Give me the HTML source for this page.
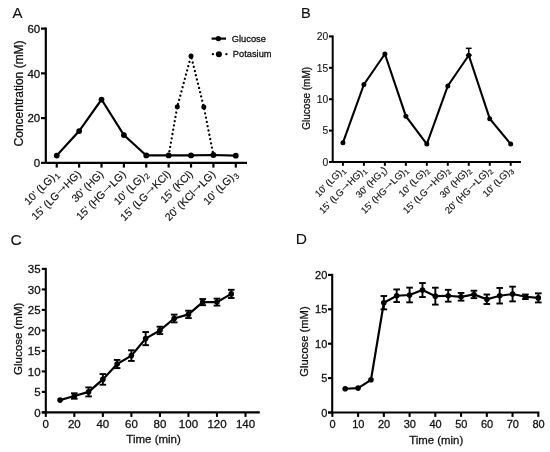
<!DOCTYPE html>
<html><head><meta charset="utf-8"><style>
html,body{margin:0;padding:0;background:#fff;}
body{width:550px;height:452px;overflow:hidden;}
svg{display:block;font-family:"Liberation Sans", sans-serif;filter:grayscale(1) blur(0.3px);}
text{stroke:#111;stroke-width:0.28px;}
</style></head><body>
<svg width="550" height="452" viewBox="0 0 550 452">
<rect width="550" height="452" fill="#fff"/>
<text x="12.60" y="17.90" font-size="15" text-anchor="start" fill="#111" style="stroke-width:0.1px">A</text>
<line x1="45.80" y1="27.50" x2="45.80" y2="162.85" stroke="#000" stroke-width="2.2" />
<line x1="41.00" y1="162.85" x2="45.80" y2="162.85" stroke="#000" stroke-width="2.2" />
<text x="40.20" y="167.05" font-size="11.5" text-anchor="end" fill="#111" >0</text>
<line x1="41.00" y1="118.10" x2="45.80" y2="118.10" stroke="#000" stroke-width="2.2" />
<text x="40.20" y="122.30" font-size="11.5" text-anchor="end" fill="#111" >20</text>
<line x1="41.00" y1="73.35" x2="45.80" y2="73.35" stroke="#000" stroke-width="2.2" />
<text x="40.20" y="77.55" font-size="11.5" text-anchor="end" fill="#111" >40</text>
<line x1="41.00" y1="28.60" x2="45.80" y2="28.60" stroke="#000" stroke-width="2.2" />
<text x="40.20" y="32.80" font-size="11.5" text-anchor="end" fill="#111" >60</text>
<line x1="45.80" y1="162.85" x2="247.00" y2="162.85" stroke="#000" stroke-width="2.2" />
<line x1="56.75" y1="162.85" x2="56.75" y2="167.60" stroke="#000" stroke-width="2.2" />
<line x1="79.13" y1="162.85" x2="79.13" y2="167.60" stroke="#000" stroke-width="2.2" />
<line x1="101.51" y1="162.85" x2="101.51" y2="167.60" stroke="#000" stroke-width="2.2" />
<line x1="123.89" y1="162.85" x2="123.89" y2="167.60" stroke="#000" stroke-width="2.2" />
<line x1="146.27" y1="162.85" x2="146.27" y2="167.60" stroke="#000" stroke-width="2.2" />
<line x1="168.65" y1="162.85" x2="168.65" y2="167.60" stroke="#000" stroke-width="2.2" />
<line x1="191.03" y1="162.85" x2="191.03" y2="167.60" stroke="#000" stroke-width="2.2" />
<line x1="213.41" y1="162.85" x2="213.41" y2="167.60" stroke="#000" stroke-width="2.2" />
<line x1="235.79" y1="162.85" x2="235.79" y2="167.60" stroke="#000" stroke-width="2.2" />
<text transform="translate(22.6,93.40) rotate(-90)" font-size="12" text-anchor="middle" fill="#111">Concentration (mM)</text>
<text transform="translate(59.25,174.80) rotate(-45)" font-size="10.6" text-anchor="end" fill="#111" style="stroke-width:0.15px">10' (LG)<tspan font-size='8.06' dx='0.9' dy='2.33'>1</tspan></text>
<text transform="translate(81.63,174.80) rotate(-45)" font-size="10.6" text-anchor="end" fill="#111" style="stroke-width:0.15px">15' (LG<tspan font-size='15.37' style='stroke-width:0' dx='-2.23' dy='-1.17'>→</tspan><tspan dx='-2.23' dy='1.17'>HG)</tspan></text>
<text transform="translate(104.01,174.80) rotate(-45)" font-size="10.6" text-anchor="end" fill="#111" style="stroke-width:0.15px">30' (HG)</text>
<text transform="translate(126.39,174.80) rotate(-45)" font-size="10.6" text-anchor="end" fill="#111" style="stroke-width:0.15px">15' (HG<tspan font-size='15.37' style='stroke-width:0' dx='-2.23' dy='-1.17'>→</tspan><tspan dx='-2.23' dy='1.17'>LG)</tspan></text>
<text transform="translate(148.77,174.80) rotate(-45)" font-size="10.6" text-anchor="end" fill="#111" style="stroke-width:0.15px">10' (LG)<tspan font-size='8.06' dx='0.9' dy='2.33'>2</tspan></text>
<text transform="translate(171.15,174.80) rotate(-45)" font-size="10.6" text-anchor="end" fill="#111" style="stroke-width:0.15px">15' (LG<tspan font-size='15.37' style='stroke-width:0' dx='-2.23' dy='-1.17'>→</tspan><tspan dx='-2.23' dy='1.17'>KCl)</tspan></text>
<text transform="translate(193.53,174.80) rotate(-45)" font-size="10.6" text-anchor="end" fill="#111" style="stroke-width:0.15px">15' (KCl)</text>
<text transform="translate(215.91,174.80) rotate(-45)" font-size="10.6" text-anchor="end" fill="#111" style="stroke-width:0.15px">20' (KCl<tspan font-size='15.37' style='stroke-width:0' dx='-2.23' dy='-1.17'>→</tspan><tspan dx='-2.23' dy='1.17'>LG)</tspan></text>
<text transform="translate(238.29,174.80) rotate(-45)" font-size="10.6" text-anchor="end" fill="#111" style="stroke-width:0.15px">10' (LG)<tspan font-size='8.06' dx='0.9' dy='2.33'>3</tspan></text>
<polyline points="168.65,155.47 177.30,106.69 191.03,55.90 203.80,106.91 213.41,155.02" fill="none" stroke="#000" stroke-width="2.3" stroke-linejoin="miter" stroke-dasharray="0.01,4.35" stroke-linecap="round"/>
<circle cx="177.30" cy="106.69" r="2.5" fill="#000"/>
<circle cx="191.03" cy="55.90" r="2.5" fill="#000"/>
<circle cx="203.80" cy="106.91" r="2.5" fill="#000"/>
<polyline points="56.75,155.58 79.13,131.08 101.51,99.53 123.89,135.10 146.27,155.47 168.65,155.47 191.03,155.47 213.41,155.02 235.79,155.69" fill="none" stroke="#000" stroke-width="2.2" stroke-linejoin="miter" />
<circle cx="56.75" cy="155.58" r="2.9" fill="#000"/>
<circle cx="79.13" cy="131.08" r="2.9" fill="#000"/>
<circle cx="101.51" cy="99.53" r="2.9" fill="#000"/>
<circle cx="123.89" cy="135.10" r="2.9" fill="#000"/>
<circle cx="146.27" cy="155.47" r="2.9" fill="#000"/>
<circle cx="168.65" cy="155.47" r="2.9" fill="#000"/>
<circle cx="191.03" cy="155.47" r="2.9" fill="#000"/>
<circle cx="213.41" cy="155.02" r="2.9" fill="#000"/>
<circle cx="235.79" cy="155.69" r="2.9" fill="#000"/>
<line x1="211.60" y1="38.60" x2="226.00" y2="38.60" stroke="#000" stroke-width="2.2" />
<circle cx="218.40" cy="38.60" r="2.7" fill="#000"/>
<text x="231.80" y="42.00" font-size="9.3" text-anchor="start" fill="#111" >Glucose</text>
<circle cx="212.90" cy="54.20" r="1.15" fill="#000"/>
<circle cx="226.40" cy="54.20" r="1.15" fill="#000"/>
<circle cx="218.90" cy="54.20" r="3.0" fill="#000"/>
<text x="232.80" y="57.30" font-size="9.3" text-anchor="start" fill="#111" >Potasium</text>
<text x="301.00" y="17.80" font-size="14.5" text-anchor="start" fill="#111" style="stroke-width:0.1px">B</text>
<line x1="332.70" y1="35.40" x2="332.70" y2="162.00" stroke="#000" stroke-width="2.0" />
<line x1="329.00" y1="162.00" x2="332.70" y2="162.00" stroke="#000" stroke-width="2.0" />
<text x="328.30" y="165.70" font-size="10.3" text-anchor="end" fill="#111" style="stroke-width:0.1px">0</text>
<line x1="329.00" y1="130.60" x2="332.70" y2="130.60" stroke="#000" stroke-width="2.0" />
<text x="328.30" y="134.30" font-size="10.3" text-anchor="end" fill="#111" style="stroke-width:0.1px">5</text>
<line x1="329.00" y1="99.20" x2="332.70" y2="99.20" stroke="#000" stroke-width="2.0" />
<text x="328.30" y="102.90" font-size="10.3" text-anchor="end" fill="#111" style="stroke-width:0.1px">10</text>
<line x1="329.00" y1="67.80" x2="332.70" y2="67.80" stroke="#000" stroke-width="2.0" />
<text x="328.30" y="71.50" font-size="10.3" text-anchor="end" fill="#111" style="stroke-width:0.1px">15</text>
<line x1="329.00" y1="36.40" x2="332.70" y2="36.40" stroke="#000" stroke-width="2.0" />
<text x="328.30" y="40.10" font-size="10.3" text-anchor="end" fill="#111" style="stroke-width:0.1px">20</text>
<line x1="332.70" y1="162.00" x2="521.00" y2="162.00" stroke="#000" stroke-width="2.0" />
<line x1="342.95" y1="162.00" x2="342.95" y2="165.80" stroke="#000" stroke-width="2.0" />
<line x1="363.92" y1="162.00" x2="363.92" y2="165.80" stroke="#000" stroke-width="2.0" />
<line x1="384.89" y1="162.00" x2="384.89" y2="165.80" stroke="#000" stroke-width="2.0" />
<line x1="405.86" y1="162.00" x2="405.86" y2="165.80" stroke="#000" stroke-width="2.0" />
<line x1="426.83" y1="162.00" x2="426.83" y2="165.80" stroke="#000" stroke-width="2.0" />
<line x1="447.80" y1="162.00" x2="447.80" y2="165.80" stroke="#000" stroke-width="2.0" />
<line x1="468.77" y1="162.00" x2="468.77" y2="165.80" stroke="#000" stroke-width="2.0" />
<line x1="489.74" y1="162.00" x2="489.74" y2="165.80" stroke="#000" stroke-width="2.0" />
<line x1="510.71" y1="162.00" x2="510.71" y2="165.80" stroke="#000" stroke-width="2.0" />
<text transform="translate(310.2,98.30) rotate(-90)" font-size="10" text-anchor="middle" fill="#111">Glucose (mM)</text>
<text transform="translate(345.55,170.60) rotate(-45)" font-size="9.4" text-anchor="end" fill="#111" style="stroke-width:0.15px">10' (LG)<tspan font-size='7.14' dx='0.4' dy='2.07'>1</tspan></text>
<text transform="translate(366.52,170.60) rotate(-45)" font-size="9.4" text-anchor="end" fill="#111" style="stroke-width:0.15px">15' (LG<tspan font-size='13.63' style='stroke-width:0' dx='-1.97' dy='-1.03'>→</tspan><tspan dx='-1.97' dy='1.03'>HG)</tspan><tspan font-size='7.14' dx='0.4' dy='2.07'>1</tspan></text>
<text transform="translate(387.49,170.60) rotate(-45)" font-size="9.4" text-anchor="end" fill="#111" style="stroke-width:0.15px">30' (HG<tspan font-size='7.14' dx='0.4' dy='2.07'>1</tspan><tspan dy='-2.07'>)</tspan></text>
<text transform="translate(408.46,170.60) rotate(-45)" font-size="9.4" text-anchor="end" fill="#111" style="stroke-width:0.15px">15' (HG<tspan font-size='13.63' style='stroke-width:0' dx='-1.97' dy='-1.03'>→</tspan><tspan dx='-1.97' dy='1.03'>LG)</tspan><tspan font-size='7.14' dx='0.4' dy='2.07'>1</tspan></text>
<text transform="translate(429.43,170.60) rotate(-45)" font-size="9.4" text-anchor="end" fill="#111" style="stroke-width:0.15px">10' (LG)<tspan font-size='7.14' dx='0.4' dy='2.07'>2</tspan></text>
<text transform="translate(450.40,170.60) rotate(-45)" font-size="9.4" text-anchor="end" fill="#111" style="stroke-width:0.15px">15' (LG<tspan font-size='13.63' style='stroke-width:0' dx='-1.97' dy='-1.03'>→</tspan><tspan dx='-1.97' dy='1.03'>HG)</tspan><tspan font-size='7.14' dx='0.4' dy='2.07'>2</tspan></text>
<text transform="translate(471.37,170.60) rotate(-45)" font-size="9.4" text-anchor="end" fill="#111" style="stroke-width:0.15px">30' (HG)<tspan font-size='7.14' dx='0.4' dy='2.07'>2</tspan></text>
<text transform="translate(492.34,170.60) rotate(-45)" font-size="9.4" text-anchor="end" fill="#111" style="stroke-width:0.15px">20' (HG<tspan font-size='13.63' style='stroke-width:0' dx='-1.97' dy='-1.03'>→</tspan><tspan dx='-1.97' dy='1.03'>LG)</tspan><tspan font-size='7.14' dx='0.4' dy='2.07'>2</tspan></text>
<text transform="translate(513.31,170.60) rotate(-45)" font-size="9.4" text-anchor="end" fill="#111" style="stroke-width:0.15px">10' (LG)<tspan font-size='7.14' dx='0.4' dy='2.07'>3</tspan></text>
<line x1="468.77" y1="55.24" x2="468.77" y2="48.33" stroke="#000" stroke-width="1.5" />
<line x1="465.87" y1="55.24" x2="471.67" y2="55.24" stroke="#000" stroke-width="1.5" />
<line x1="465.87" y1="48.33" x2="471.67" y2="48.33" stroke="#000" stroke-width="1.5" />
<polyline points="342.95,142.72 363.92,84.44 384.89,53.98 405.86,116.16 426.83,144.10 447.80,86.01 468.77,55.24 489.74,118.67 510.71,144.10" fill="none" stroke="#000" stroke-width="2.1" stroke-linejoin="miter" />
<circle cx="342.95" cy="142.72" r="2.5" fill="#000"/>
<circle cx="363.92" cy="84.44" r="2.5" fill="#000"/>
<circle cx="384.89" cy="53.98" r="2.5" fill="#000"/>
<circle cx="405.86" cy="116.16" r="2.5" fill="#000"/>
<circle cx="426.83" cy="144.10" r="2.5" fill="#000"/>
<circle cx="447.80" cy="86.01" r="2.5" fill="#000"/>
<circle cx="468.77" cy="55.24" r="2.5" fill="#000"/>
<circle cx="489.74" cy="118.67" r="2.5" fill="#000"/>
<circle cx="510.71" cy="144.10" r="2.5" fill="#000"/>
<text x="10.50" y="244.80" font-size="15.5" text-anchor="start" fill="#111" style="stroke-width:0.1px">C</text>
<line x1="45.80" y1="267.85" x2="45.80" y2="413.45" stroke="#000" stroke-width="2.1" />
<line x1="41.80" y1="412.40" x2="45.80" y2="412.40" stroke="#000" stroke-width="2.1" />
<text x="40.60" y="416.80" font-size="11.5" text-anchor="end" fill="#111" >0</text>
<line x1="41.80" y1="391.90" x2="45.80" y2="391.90" stroke="#000" stroke-width="2.1" />
<text x="40.60" y="396.30" font-size="11.5" text-anchor="end" fill="#111" >5</text>
<line x1="41.80" y1="371.40" x2="45.80" y2="371.40" stroke="#000" stroke-width="2.1" />
<text x="40.60" y="375.80" font-size="11.5" text-anchor="end" fill="#111" >10</text>
<line x1="41.80" y1="350.90" x2="45.80" y2="350.90" stroke="#000" stroke-width="2.1" />
<text x="40.60" y="355.30" font-size="11.5" text-anchor="end" fill="#111" >15</text>
<line x1="41.80" y1="330.40" x2="45.80" y2="330.40" stroke="#000" stroke-width="2.1" />
<text x="40.60" y="334.80" font-size="11.5" text-anchor="end" fill="#111" >20</text>
<line x1="41.80" y1="309.90" x2="45.80" y2="309.90" stroke="#000" stroke-width="2.1" />
<text x="40.60" y="314.30" font-size="11.5" text-anchor="end" fill="#111" >25</text>
<line x1="41.80" y1="289.40" x2="45.80" y2="289.40" stroke="#000" stroke-width="2.1" />
<text x="40.60" y="293.80" font-size="11.5" text-anchor="end" fill="#111" >30</text>
<line x1="41.80" y1="268.90" x2="45.80" y2="268.90" stroke="#000" stroke-width="2.1" />
<text x="40.60" y="273.30" font-size="11.5" text-anchor="end" fill="#111" >35</text>
<line x1="41.80" y1="412.40" x2="259.78" y2="412.40" stroke="#000" stroke-width="2.1" />
<line x1="45.80" y1="412.40" x2="45.80" y2="416.90" stroke="#000" stroke-width="2.1" />
<text x="45.80" y="427.60" font-size="11.5" text-anchor="middle" fill="#111" >0</text>
<line x1="74.33" y1="412.40" x2="74.33" y2="416.90" stroke="#000" stroke-width="2.1" />
<text x="74.33" y="427.60" font-size="11.5" text-anchor="middle" fill="#111" >20</text>
<line x1="102.86" y1="412.40" x2="102.86" y2="416.90" stroke="#000" stroke-width="2.1" />
<text x="102.86" y="427.60" font-size="11.5" text-anchor="middle" fill="#111" >40</text>
<line x1="131.39" y1="412.40" x2="131.39" y2="416.90" stroke="#000" stroke-width="2.1" />
<text x="131.39" y="427.60" font-size="11.5" text-anchor="middle" fill="#111" >60</text>
<line x1="159.92" y1="412.40" x2="159.92" y2="416.90" stroke="#000" stroke-width="2.1" />
<text x="159.92" y="427.60" font-size="11.5" text-anchor="middle" fill="#111" >80</text>
<line x1="188.45" y1="412.40" x2="188.45" y2="416.90" stroke="#000" stroke-width="2.1" />
<text x="188.45" y="427.60" font-size="11.5" text-anchor="middle" fill="#111" >100</text>
<line x1="216.98" y1="412.40" x2="216.98" y2="416.90" stroke="#000" stroke-width="2.1" />
<text x="216.98" y="427.60" font-size="11.5" text-anchor="middle" fill="#111" >120</text>
<line x1="245.51" y1="412.40" x2="245.51" y2="416.90" stroke="#000" stroke-width="2.1" />
<text x="245.51" y="427.60" font-size="11.5" text-anchor="middle" fill="#111" >140</text>
<text transform="translate(22.2,338.80) rotate(-90)" font-size="11.5" text-anchor="middle" fill="#111">Glucose (mM)</text>
<text x="153.59" y="442.60" font-size="11.5" text-anchor="middle" fill="#111" >Time (min)</text>
<line x1="74.33" y1="393.29" x2="74.33" y2="398.71" stroke="#000" stroke-width="1.9" />
<line x1="71.03" y1="393.29" x2="77.63" y2="393.29" stroke="#000" stroke-width="1.9" />
<line x1="71.03" y1="398.71" x2="77.63" y2="398.71" stroke="#000" stroke-width="1.9" />
<line x1="88.59" y1="387.39" x2="88.59" y2="396.41" stroke="#000" stroke-width="1.9" />
<line x1="85.30" y1="387.39" x2="91.89" y2="387.39" stroke="#000" stroke-width="1.9" />
<line x1="85.30" y1="396.41" x2="91.89" y2="396.41" stroke="#000" stroke-width="1.9" />
<line x1="102.86" y1="374.06" x2="102.86" y2="384.72" stroke="#000" stroke-width="1.9" />
<line x1="99.56" y1="374.06" x2="106.16" y2="374.06" stroke="#000" stroke-width="1.9" />
<line x1="99.56" y1="384.72" x2="106.16" y2="384.72" stroke="#000" stroke-width="1.9" />
<line x1="117.12" y1="359.92" x2="117.12" y2="368.12" stroke="#000" stroke-width="1.9" />
<line x1="113.83" y1="359.92" x2="120.42" y2="359.92" stroke="#000" stroke-width="1.9" />
<line x1="113.83" y1="368.12" x2="120.42" y2="368.12" stroke="#000" stroke-width="1.9" />
<line x1="131.39" y1="350.28" x2="131.39" y2="360.94" stroke="#000" stroke-width="1.9" />
<line x1="128.09" y1="350.28" x2="134.69" y2="350.28" stroke="#000" stroke-width="1.9" />
<line x1="128.09" y1="360.94" x2="134.69" y2="360.94" stroke="#000" stroke-width="1.9" />
<line x1="145.66" y1="332.04" x2="145.66" y2="345.16" stroke="#000" stroke-width="1.9" />
<line x1="142.35" y1="332.04" x2="148.96" y2="332.04" stroke="#000" stroke-width="1.9" />
<line x1="142.35" y1="345.16" x2="148.96" y2="345.16" stroke="#000" stroke-width="1.9" />
<line x1="159.92" y1="326.71" x2="159.92" y2="334.09" stroke="#000" stroke-width="1.9" />
<line x1="156.62" y1="326.71" x2="163.22" y2="326.71" stroke="#000" stroke-width="1.9" />
<line x1="156.62" y1="334.09" x2="163.22" y2="334.09" stroke="#000" stroke-width="1.9" />
<line x1="174.19" y1="314.62" x2="174.19" y2="322.40" stroke="#000" stroke-width="1.9" />
<line x1="170.88" y1="314.62" x2="177.49" y2="314.62" stroke="#000" stroke-width="1.9" />
<line x1="170.88" y1="322.40" x2="177.49" y2="322.40" stroke="#000" stroke-width="1.9" />
<line x1="188.45" y1="310.72" x2="188.45" y2="318.10" stroke="#000" stroke-width="1.9" />
<line x1="185.15" y1="310.72" x2="191.75" y2="310.72" stroke="#000" stroke-width="1.9" />
<line x1="185.15" y1="318.10" x2="191.75" y2="318.10" stroke="#000" stroke-width="1.9" />
<line x1="202.72" y1="299.03" x2="202.72" y2="305.19" stroke="#000" stroke-width="1.9" />
<line x1="199.42" y1="299.03" x2="206.02" y2="299.03" stroke="#000" stroke-width="1.9" />
<line x1="199.42" y1="305.19" x2="206.02" y2="305.19" stroke="#000" stroke-width="1.9" />
<line x1="216.98" y1="298.62" x2="216.98" y2="305.59" stroke="#000" stroke-width="1.9" />
<line x1="213.68" y1="298.62" x2="220.28" y2="298.62" stroke="#000" stroke-width="1.9" />
<line x1="213.68" y1="305.59" x2="220.28" y2="305.59" stroke="#000" stroke-width="1.9" />
<line x1="231.25" y1="289.81" x2="231.25" y2="298.01" stroke="#000" stroke-width="1.9" />
<line x1="227.94" y1="289.81" x2="234.55" y2="289.81" stroke="#000" stroke-width="1.9" />
<line x1="227.94" y1="298.01" x2="234.55" y2="298.01" stroke="#000" stroke-width="1.9" />
<polyline points="60.06,400.10 74.33,396.00 88.59,391.90 102.86,379.39 117.12,364.02 131.39,355.62 145.66,338.60 159.92,330.40 174.19,318.51 188.45,314.41 202.72,302.11 216.98,302.11 231.25,293.91" fill="none" stroke="#000" stroke-width="2.2" stroke-linejoin="miter" />
<circle cx="60.06" cy="400.10" r="2.8" fill="#000"/>
<circle cx="74.33" cy="396.00" r="2.8" fill="#000"/>
<circle cx="88.59" cy="391.90" r="2.8" fill="#000"/>
<circle cx="102.86" cy="379.39" r="2.8" fill="#000"/>
<circle cx="117.12" cy="364.02" r="2.8" fill="#000"/>
<circle cx="131.39" cy="355.62" r="2.8" fill="#000"/>
<circle cx="145.66" cy="338.60" r="2.8" fill="#000"/>
<circle cx="159.92" cy="330.40" r="2.8" fill="#000"/>
<circle cx="174.19" cy="318.51" r="2.8" fill="#000"/>
<circle cx="188.45" cy="314.41" r="2.8" fill="#000"/>
<circle cx="202.72" cy="302.11" r="2.8" fill="#000"/>
<circle cx="216.98" cy="302.11" r="2.8" fill="#000"/>
<circle cx="231.25" cy="293.91" r="2.8" fill="#000"/>
<text x="295.80" y="244.30" font-size="15.5" text-anchor="start" fill="#111" style="stroke-width:0.1px">D</text>
<line x1="332.20" y1="273.85" x2="332.20" y2="413.55" stroke="#000" stroke-width="2.1" />
<line x1="328.00" y1="412.50" x2="332.20" y2="412.50" stroke="#000" stroke-width="2.1" />
<text x="327.30" y="416.60" font-size="11" text-anchor="end" fill="#111" >0</text>
<line x1="328.00" y1="378.10" x2="332.20" y2="378.10" stroke="#000" stroke-width="2.1" />
<text x="327.30" y="382.20" font-size="11" text-anchor="end" fill="#111" >5</text>
<line x1="328.00" y1="343.70" x2="332.20" y2="343.70" stroke="#000" stroke-width="2.1" />
<text x="327.30" y="347.80" font-size="11" text-anchor="end" fill="#111" >10</text>
<line x1="328.00" y1="309.30" x2="332.20" y2="309.30" stroke="#000" stroke-width="2.1" />
<text x="327.30" y="313.40" font-size="11" text-anchor="end" fill="#111" >15</text>
<line x1="328.00" y1="274.90" x2="332.20" y2="274.90" stroke="#000" stroke-width="2.1" />
<text x="327.30" y="279.00" font-size="11" text-anchor="end" fill="#111" >20</text>
<line x1="328.00" y1="412.50" x2="539.36" y2="412.50" stroke="#000" stroke-width="2.1" />
<line x1="332.35" y1="412.50" x2="332.35" y2="416.90" stroke="#000" stroke-width="2.1" />
<text x="332.55" y="427.60" font-size="11" text-anchor="middle" fill="#111" >0</text>
<line x1="358.09" y1="412.50" x2="358.09" y2="416.90" stroke="#000" stroke-width="2.1" />
<text x="358.29" y="427.60" font-size="11" text-anchor="middle" fill="#111" >10</text>
<line x1="383.84" y1="412.50" x2="383.84" y2="416.90" stroke="#000" stroke-width="2.1" />
<text x="384.04" y="427.60" font-size="11" text-anchor="middle" fill="#111" >20</text>
<line x1="409.58" y1="412.50" x2="409.58" y2="416.90" stroke="#000" stroke-width="2.1" />
<text x="409.78" y="427.60" font-size="11" text-anchor="middle" fill="#111" >30</text>
<line x1="435.33" y1="412.50" x2="435.33" y2="416.90" stroke="#000" stroke-width="2.1" />
<text x="435.53" y="427.60" font-size="11" text-anchor="middle" fill="#111" >40</text>
<line x1="461.07" y1="412.50" x2="461.07" y2="416.90" stroke="#000" stroke-width="2.1" />
<text x="461.27" y="427.60" font-size="11" text-anchor="middle" fill="#111" >50</text>
<line x1="486.82" y1="412.50" x2="486.82" y2="416.90" stroke="#000" stroke-width="2.1" />
<text x="487.02" y="427.60" font-size="11" text-anchor="middle" fill="#111" >60</text>
<line x1="512.56" y1="412.50" x2="512.56" y2="416.90" stroke="#000" stroke-width="2.1" />
<text x="512.76" y="427.60" font-size="11" text-anchor="middle" fill="#111" >70</text>
<line x1="538.31" y1="412.50" x2="538.31" y2="416.90" stroke="#000" stroke-width="2.1" />
<text x="538.51" y="427.60" font-size="11" text-anchor="middle" fill="#111" >80</text>
<text transform="translate(307.9,341.50) rotate(-90)" font-size="11.2" text-anchor="middle" fill="#111">Glucose (mM)</text>
<text x="436.23" y="443.80" font-size="11.4" text-anchor="middle" fill="#111" >Time (min)</text>
<line x1="383.84" y1="296.02" x2="383.84" y2="309.37" stroke="#000" stroke-width="1.9" />
<line x1="380.54" y1="296.02" x2="387.14" y2="296.02" stroke="#000" stroke-width="1.9" />
<line x1="380.54" y1="309.37" x2="387.14" y2="309.37" stroke="#000" stroke-width="1.9" />
<line x1="396.71" y1="289.42" x2="396.71" y2="302.08" stroke="#000" stroke-width="1.9" />
<line x1="393.41" y1="289.42" x2="400.01" y2="289.42" stroke="#000" stroke-width="1.9" />
<line x1="393.41" y1="302.08" x2="400.01" y2="302.08" stroke="#000" stroke-width="1.9" />
<line x1="409.58" y1="287.63" x2="409.58" y2="302.35" stroke="#000" stroke-width="1.9" />
<line x1="406.28" y1="287.63" x2="412.88" y2="287.63" stroke="#000" stroke-width="1.9" />
<line x1="406.28" y1="302.35" x2="412.88" y2="302.35" stroke="#000" stroke-width="1.9" />
<line x1="422.46" y1="283.02" x2="422.46" y2="297.05" stroke="#000" stroke-width="1.9" />
<line x1="419.16" y1="283.02" x2="425.76" y2="283.02" stroke="#000" stroke-width="1.9" />
<line x1="419.16" y1="297.05" x2="425.76" y2="297.05" stroke="#000" stroke-width="1.9" />
<line x1="435.33" y1="287.70" x2="435.33" y2="304.62" stroke="#000" stroke-width="1.9" />
<line x1="432.03" y1="287.70" x2="438.63" y2="287.70" stroke="#000" stroke-width="1.9" />
<line x1="432.03" y1="304.62" x2="438.63" y2="304.62" stroke="#000" stroke-width="1.9" />
<line x1="448.20" y1="289.83" x2="448.20" y2="301.66" stroke="#000" stroke-width="1.9" />
<line x1="444.90" y1="289.83" x2="451.50" y2="289.83" stroke="#000" stroke-width="1.9" />
<line x1="444.90" y1="301.66" x2="451.50" y2="301.66" stroke="#000" stroke-width="1.9" />
<line x1="461.07" y1="292.93" x2="461.07" y2="300.63" stroke="#000" stroke-width="1.9" />
<line x1="457.77" y1="292.93" x2="464.37" y2="292.93" stroke="#000" stroke-width="1.9" />
<line x1="457.77" y1="300.63" x2="464.37" y2="300.63" stroke="#000" stroke-width="1.9" />
<line x1="473.95" y1="290.72" x2="473.95" y2="298.15" stroke="#000" stroke-width="1.9" />
<line x1="470.65" y1="290.72" x2="477.25" y2="290.72" stroke="#000" stroke-width="1.9" />
<line x1="470.65" y1="298.15" x2="477.25" y2="298.15" stroke="#000" stroke-width="1.9" />
<line x1="486.82" y1="294.51" x2="486.82" y2="304.00" stroke="#000" stroke-width="1.9" />
<line x1="483.52" y1="294.51" x2="490.12" y2="294.51" stroke="#000" stroke-width="1.9" />
<line x1="483.52" y1="304.00" x2="490.12" y2="304.00" stroke="#000" stroke-width="1.9" />
<line x1="499.69" y1="287.97" x2="499.69" y2="303.52" stroke="#000" stroke-width="1.9" />
<line x1="496.39" y1="287.97" x2="502.99" y2="287.97" stroke="#000" stroke-width="1.9" />
<line x1="496.39" y1="303.52" x2="502.99" y2="303.52" stroke="#000" stroke-width="1.9" />
<line x1="512.56" y1="286.66" x2="512.56" y2="301.39" stroke="#000" stroke-width="1.9" />
<line x1="509.26" y1="286.66" x2="515.86" y2="286.66" stroke="#000" stroke-width="1.9" />
<line x1="509.26" y1="301.39" x2="515.86" y2="301.39" stroke="#000" stroke-width="1.9" />
<line x1="525.44" y1="294.51" x2="525.44" y2="299.05" stroke="#000" stroke-width="1.9" />
<line x1="522.14" y1="294.51" x2="528.74" y2="294.51" stroke="#000" stroke-width="1.9" />
<line x1="522.14" y1="299.05" x2="528.74" y2="299.05" stroke="#000" stroke-width="1.9" />
<line x1="538.31" y1="293.34" x2="538.31" y2="302.42" stroke="#000" stroke-width="1.9" />
<line x1="535.01" y1="293.34" x2="541.61" y2="293.34" stroke="#000" stroke-width="1.9" />
<line x1="535.01" y1="302.42" x2="541.61" y2="302.42" stroke="#000" stroke-width="1.9" />
<polyline points="345.22,388.76 358.09,388.08 370.97,379.82 383.84,302.70 396.71,295.75 409.58,294.99 422.46,290.04 435.33,296.16 448.20,295.75 461.07,296.78 473.95,294.44 486.82,299.26 499.69,295.75 512.56,294.03 525.44,296.78 538.31,297.88" fill="none" stroke="#000" stroke-width="2.2" stroke-linejoin="miter" />
<circle cx="345.22" cy="388.76" r="2.8" fill="#000"/>
<circle cx="358.09" cy="388.08" r="2.8" fill="#000"/>
<circle cx="370.97" cy="379.82" r="2.8" fill="#000"/>
<circle cx="383.84" cy="302.70" r="2.8" fill="#000"/>
<circle cx="396.71" cy="295.75" r="2.8" fill="#000"/>
<circle cx="409.58" cy="294.99" r="2.8" fill="#000"/>
<circle cx="422.46" cy="290.04" r="2.8" fill="#000"/>
<circle cx="435.33" cy="296.16" r="2.8" fill="#000"/>
<circle cx="448.20" cy="295.75" r="2.8" fill="#000"/>
<circle cx="461.07" cy="296.78" r="2.8" fill="#000"/>
<circle cx="473.95" cy="294.44" r="2.8" fill="#000"/>
<circle cx="486.82" cy="299.26" r="2.8" fill="#000"/>
<circle cx="499.69" cy="295.75" r="2.8" fill="#000"/>
<circle cx="512.56" cy="294.03" r="2.8" fill="#000"/>
<circle cx="525.44" cy="296.78" r="2.8" fill="#000"/>
<circle cx="538.31" cy="297.88" r="2.8" fill="#000"/>
</svg>
</body></html>
